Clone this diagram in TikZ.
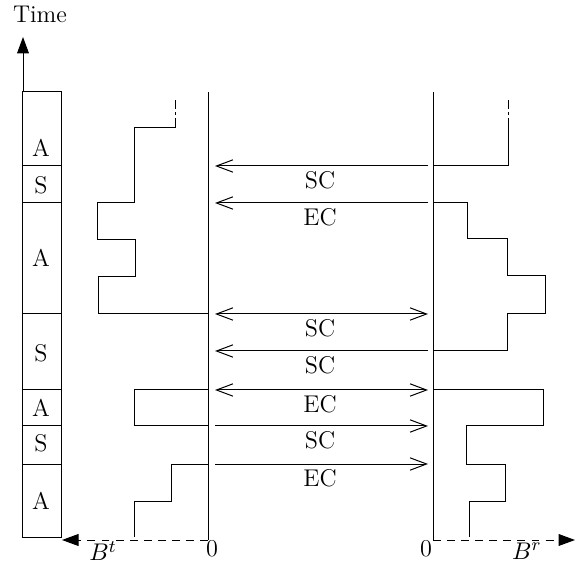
\documentclass[tikz,border=0pt]{standalone}
\usetikzlibrary{arrows.meta}
\begin{document}
\begin{tikzpicture}[x=0.4545pt, y=-0.4545pt, line width=0.45pt,
  barb/.style={-{Straight Barb[length=7.5pt,width=5.6pt,line width=0.45pt]}},
  dbarb/.style={{Straight Barb[length=7.5pt,width=5.6pt,line width=0.45pt]}-{Straight Barb[length=7.5pt,width=5.6pt,line width=0.45pt]}},
  axisarrow/.style={-{Triangle[length=7.5pt,width=5.4pt]}},
  axisdash/.style={dash pattern=on 3.6pt off 2.8pt},
  topdash/.style={dash pattern=on 4.5pt off 1.6pt on 1pt off 1.6pt on 4pt},
  lbl/.style={inner sep=0pt, font=\fontsize{11}{13}\selectfont}]
\useasboundingbox (0,0) rectangle (575,566);

% time axis and phase column
\coordinate (ctop) at (23,92);
\coordinate (ttip) at (23,37);
\draw[axisarrow] (ctop) -- (ttip);
\node[lbl] (time) at (40,14) {Time};
\draw (22,92) rectangle (61,537);
\foreach \y in {166,203,314,390,426,464} \draw (22,\y) -- (61,\y);
\node[lbl] (p1) at (41,148) {A};
\node[lbl] (p2) at (41,185) {S};
\node[lbl] (p3) at (41,258) {A};
\node[lbl] (p4) at (41,353) {S};
\node[lbl] (p5) at (41,408) {A};
\node[lbl] (p6) at (41,443) {S};
\node[lbl] (p7) at (41,501) {A};

% the two zero lines
\coordinate (lt) at (208,92);
\coordinate (lb) at (208,540);
\coordinate (rt) at (433,92);
\coordinate (rb) at (433,540);
\draw (lt) -- (lb);
\draw (rt) -- (rb);

% buffer axes
\coordinate (btend) at (62,540);
\coordinate (brend) at (575,540);
\draw[axisdash] (lb) -- (75,540);
\draw[axisarrow] (76,540) -- (btend);
\draw[axisdash] (rb) -- (562,540);
\draw[axisarrow] (561,540) -- (brend);
\node[lbl] (zl) at (212,549) {0};
\node[lbl] (zr) at (426,549) {0};
\node[lbl] (bt) at (103,551) {$B^t$};
\node[lbl] (br) at (527,551) {$B^r$};

% left buffer level
\draw[topdash] (175,128) -- (175,96);
\draw (175,128) -- (134,128) -- (134,203) -- (97,203) -- (97,240) -- (135,240)
  -- (135,277) -- (98,277) -- (98,314) -- (208,314);
\draw (208,390) -- (134,390) -- (134,426) -- (208,426);
\draw (208,464) -- (171,464) -- (171,501) -- (134,501) -- (134,537);

% right buffer level
\draw[topdash] (508,128) -- (508,96);
\draw (508,128) -- (508,166) -- (433,166);
\draw (433,203) -- (467,203) -- (467,239) -- (507,239) -- (507,276) -- (545,276)
  -- (545,314) -- (507,314) -- (507,351) -- (433,351);
\draw (433,390) -- (543,390) -- (543,426) -- (466,426) -- (466,464) -- (505,464)
  -- (505,501) -- (469,501) -- (469,537);

% messages between the two sides
\foreach \i/\y in {1/166,2/203,3/314,4/351,5/390,6/426,7/464} {
  \coordinate (a\i) at (215,\y);
  \coordinate (b\i) at (428,\y);
}
\draw[barb] (b1) -- (a1);
\draw[barb] (b2) -- (a2);
\draw[dbarb] (a3) -- (b3);
\draw[barb] (b4) -- (a4);
\draw[dbarb] (a5) -- (b5);
\draw[barb] (a6) -- (b6);
\draw[barb] (a7) -- (b7);
\node[lbl] (m1) at (320,180) {SC};
\node[lbl] (m2) at (320,217) {EC};
\node[lbl] (m3) at (320,328) {SC};
\node[lbl] (m4) at (320,365) {SC};
\node[lbl] (m5) at (320,404) {EC};
\node[lbl] (m6) at (320,440) {SC};
\node[lbl] (m7) at (320,478) {EC};
\end{tikzpicture}
\end{document}
